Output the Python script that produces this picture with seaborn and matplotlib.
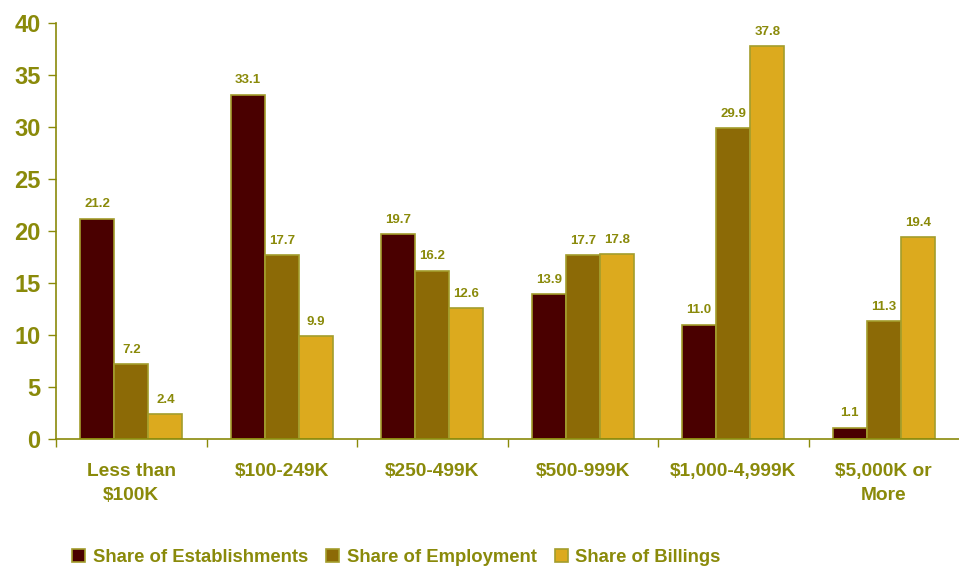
import numpy as np
import pandas as pd
import seaborn as sns
import matplotlib.pyplot as plt
from matplotlib.ticker import FixedLocator

sns.set_style("white")
plt.rcParams['font.family'] = ['Liberation Sans', 'DejaVu Sans']
plt.rcParams['font.weight'] = 'bold'

categories = ["Less than\n$100K", "$100-249K", "$250-499K", "$500-999K",
              "$1,000-4,999K", "$5,000K or\nMore"]
series = ["Share of Establishments", "Share of Employment", "Share of Billings"]
establishments = [21.2, 33.1, 19.7, 13.9, 11.0, 1.1]
employment = [7.2, 17.7, 16.2, 17.7, 29.9, 11.3]
billings = [2.4, 9.9, 12.6, 17.8, 37.8, 19.4]

colors = ["#4a0000", "#8c6a06", "#dcaa1e"]
text_color = "#8a8a0a"
edge_color = "#a39d2c"

df = pd.DataFrame({
    "category": categories * 3,
    "series": [s for s in series for _ in categories],
    "value": establishments + employment + billings,
})

fig = plt.figure(figsize=(9.59, 5.67), dpi=100)
ax = fig.add_axes([56 / 959, 1 - 439 / 567, 1 - 56 / 959, (439 - 23) / 567])

sns.barplot(data=df, x="category", y="value", hue="series", order=categories,
            hue_order=series, palette=colors, width=0.68, gap=0,
            edgecolor=edge_color, linewidth=1.2, saturation=1, ax=ax)

for cont in ax.containers:
    ax.bar_label(cont, fmt="%.1f", padding=6, color=text_color,
                 fontsize=9.5, fontweight="bold")

ax.set_ylim(0, 40)
ax.set_xlim(-0.5, 5.5)
ax.set_yticks(range(0, 41, 5))
ax.tick_params(axis="y", labelsize=17, colors=text_color, length=6, width=1,
               direction="out", left=True, pad=5)
ax.tick_params(axis="x", which="major", length=0, labelsize=13.8,
               labelcolor=text_color, pad=17)
ax.xaxis.set_minor_locator(FixedLocator(np.arange(-0.5, 5.0, 1.0)))
ax.tick_params(axis="x", which="minor", length=6, width=1, color=text_color,
               direction="out", bottom=True)
for lbl in ax.get_yticklabels() + ax.get_xticklabels():
    lbl.set_fontweight("bold")
for lbl in ax.get_xticklabels():
    lbl.set_linespacing(1.55)

ax.set_xlabel("")
ax.set_ylabel("")
for side in ["top", "right"]:
    ax.spines[side].set_visible(False)
for side in ["left", "bottom"]:
    ax.spines[side].set_color(text_color)
    ax.spines[side].set_linewidth(1.2)

handles, labels = ax.get_legend_handles_labels()
ax.legend_.remove()
fig.legend(handles, labels, loc="center left", bbox_to_anchor=(0.058, 0.017),
           ncol=3, frameon=False, labelcolor=text_color,
           handlelength=0.7, handleheight=0.7, handletextpad=0.4,
           columnspacing=1.0, prop={"weight": "bold", "size": 13.3})

fig.savefig("out.png", dpi=100)
